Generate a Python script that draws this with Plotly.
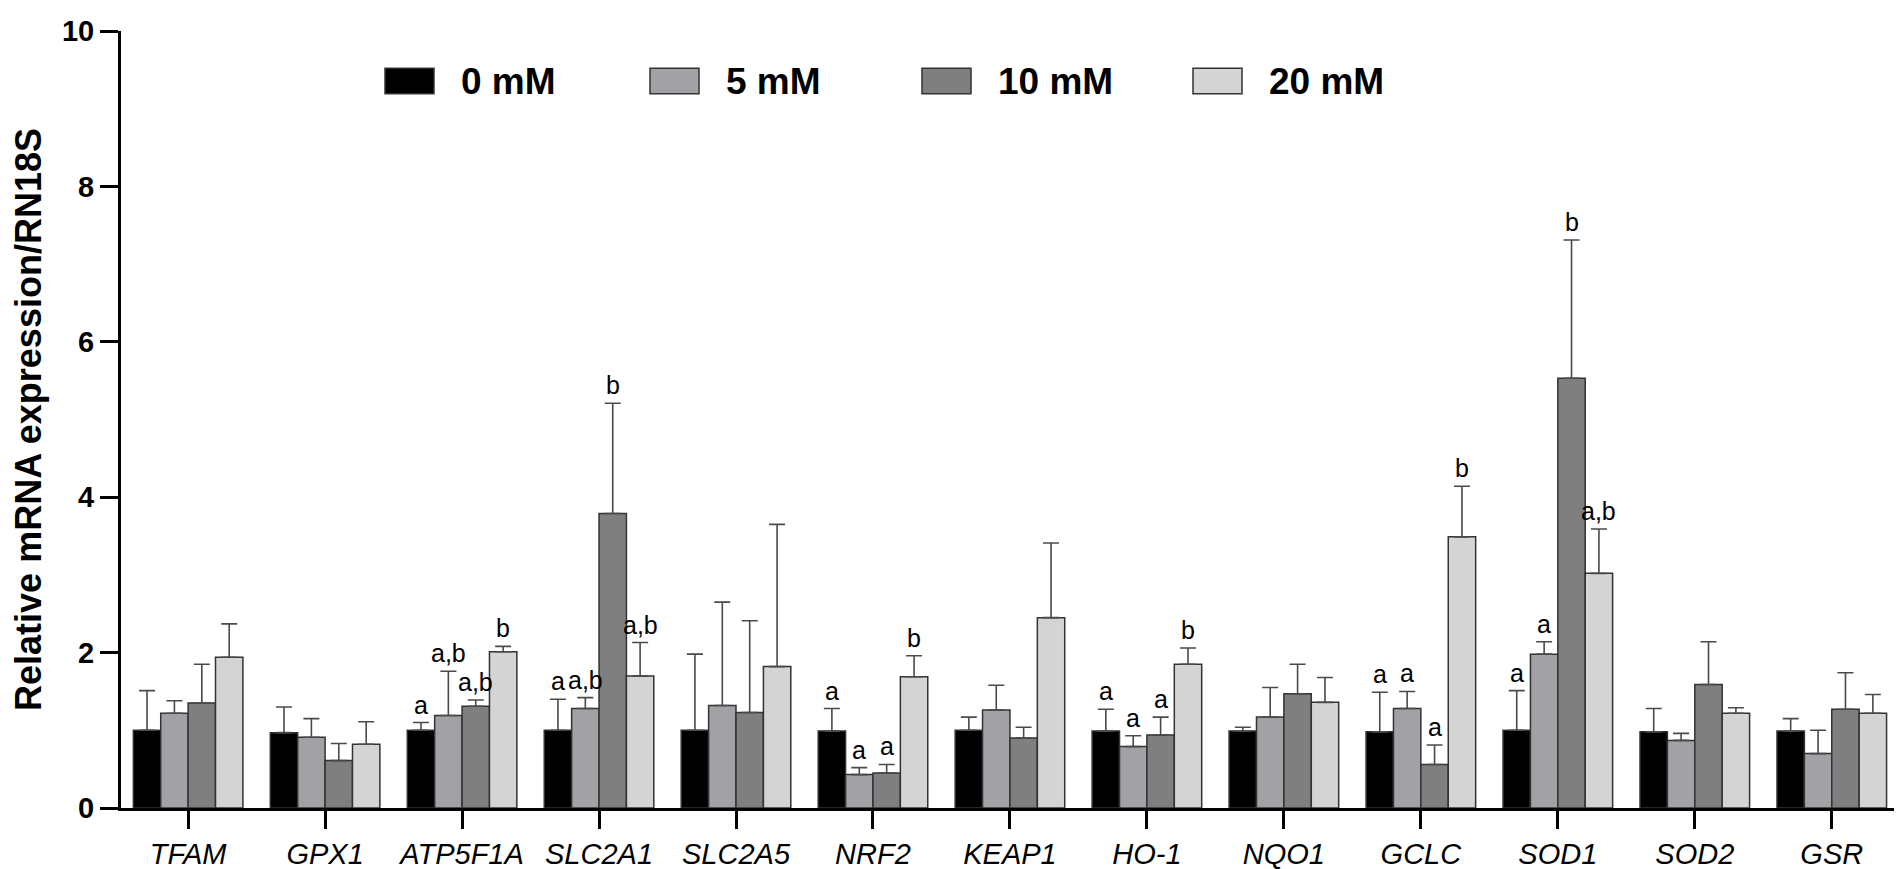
import plotly.graph_objects as go

# genes on the x axis
genes = ["TFAM", "GPX1", "ATP5F1A", "SLC2A1", "SLC2A5", "NRF2", "KEAP1",
         "HO-1", "NQO1", "GCLC", "SOD1", "SOD2", "GSR"]

series_names = ["0 mM", "5 mM", "10 mM", "20 mM"]
series_colors = ["#000000", "#a2a2a6", "#7f7f7f", "#d4d4d4"]

# mean relative expression
mean_0 = [1.00, 0.97, 1.00, 1.00, 1.00, 0.99, 1.00, 0.99, 0.99, 0.98, 1.00, 0.98, 0.99]
mean_5 = [1.22, 0.91, 1.19, 1.28, 1.32, 0.43, 1.26, 0.79, 1.17, 1.28, 1.98, 0.87, 0.70]
mean_10 = [1.35, 0.61, 1.31, 3.79, 1.23, 0.45, 0.90, 0.94, 1.47, 0.56, 5.53, 1.59, 1.27]
mean_20 = [1.94, 0.82, 2.01, 1.70, 1.82, 1.69, 2.45, 1.85, 1.36, 3.49, 3.02, 1.22, 1.22]

# upper error (SD)
err_0 = [0.51, 0.33, 0.10, 0.40, 0.98, 0.29, 0.17, 0.28, 0.05, 0.51, 0.51, 0.30, 0.16]
err_5 = [0.16, 0.24, 0.57, 0.14, 1.33, 0.09, 0.32, 0.14, 0.38, 0.22, 0.16, 0.09, 0.30]
err_10 = [0.50, 0.22, 0.08, 1.42, 1.18, 0.11, 0.14, 0.23, 0.38, 0.25, 1.78, 0.55, 0.47]
err_20 = [0.43, 0.29, 0.07, 0.43, 1.83, 0.27, 0.96, 0.21, 0.32, 0.65, 0.57, 0.07, 0.24]

# significance letters
letters_0 = ["", "", "a", "a", "", "a", "", "a", "", "a", "a", "", ""]
letters_5 = ["", "", "a,b", "a,b", "", "a", "", "a", "", "a", "a", "", ""]
letters_10 = ["", "", "a,b", "b", "", "a", "", "a", "", "a", "b", "", ""]
letters_20 = ["", "", "b", "a,b", "", "b", "", "b", "", "b", "a,b", "", ""]

y_ticks = [0, 2, 4, 6, 8, 10]

means = [mean_0, mean_5, mean_10, mean_20]
errs = [err_0, err_5, err_10, err_20]
letters = [letters_0, letters_5, letters_10, letters_20]

FONT = "Liberation Sans, Arial, sans-serif"
W, H = 1902, 869
L, R, T, B = 113, 7, 17, 61

fig = go.Figure()
for name, color, m, e in zip(series_names, series_colors, means, errs):
    fig.add_trace(go.Bar(
        x=list(range(len(genes))), y=m, name=name,
        marker=dict(color=color, line=dict(color="#333333", width=1.5)),
        error_y=dict(type="data", symmetric=False, array=e,
                     arrayminus=[0] * len(e), color="#4a4a4a",
                     thickness=1.6, width=8),
        showlegend=False,
    ))

# letters above the error caps
n = len(series_names)
group_w = 0.8
bar_w = group_w / n
for j, (m, e, lab) in enumerate(zip(means, errs, letters)):
    off = -group_w / 2 + bar_w * (j + 0.5)
    for i, t in enumerate(lab):
        if t:
            fig.add_annotation(x=i + off, y=m[i] + e[i], text=t, showarrow=False,
                               xref="x", yref="y", yanchor="bottom", yshift=2,
                               font=dict(family=FONT, size=25, color="black"))

# legend drawn by hand so the swatches can be large
pw, ph = W - L - R, H - T - B
leg_x = [377, 642, 914, 1185]
leg_y0, leg_y1 = 55, 81
for name, color, x0 in zip(series_names, series_colors, leg_x):
    fig.add_shape(type="rect", xref="paper", yref="paper",
                  x0=(x0 - L) / pw, x1=(x0 + 49 - L) / pw,
                  y0=(H - B - leg_y1) / ph, y1=(H - B - leg_y0) / ph,
                  fillcolor=color, line=dict(color="#333333", width=1.5))
    fig.add_annotation(xref="paper", yref="paper", x=(x0 + 74 - L) / pw,
                       y=(H - B - (leg_y0 + leg_y1) / 2) / ph, text=f"<b>{name}</b>",
                       showarrow=False, xanchor="left", yanchor="middle",
                       font=dict(family=FONT, size=37, color="black"))

fig.update_layout(
    width=W, height=H,
    margin=dict(l=L, r=R, t=T, b=B),
    plot_bgcolor="white", paper_bgcolor="white",
    barmode="group", bargap=0.2, bargroupgap=0,
    font=dict(family=FONT, color="black"),
    xaxis=dict(
        range=[-0.49, 12.52], tickmode="array",
        tickvals=list(range(len(genes))),
        ticktext=[f"<i>{g}</i>" for g in genes],
        showline=True, linecolor="black", linewidth=3,
        ticks="outside", ticklen=18, tickwidth=3, tickcolor="black",
        tickfont=dict(family=FONT, size=29), showgrid=False, zeroline=False,
    ),
    yaxis=dict(
        range=[0, 10], tickvals=y_ticks,
        ticktext=[f"<b>{v}</b>" for v in y_ticks],
        showline=True, linecolor="black", linewidth=3,
        ticks="outside", ticklen=18, tickwidth=3, tickcolor="black",
        tickfont=dict(family=FONT, size=29), showgrid=False, zeroline=False,
        title=dict(text="<b>Relative mRNA expression/RN18S</b>",
                   font=dict(family=FONT, size=36), standoff=10),
    ),
)

fig.write_html("out.html")
